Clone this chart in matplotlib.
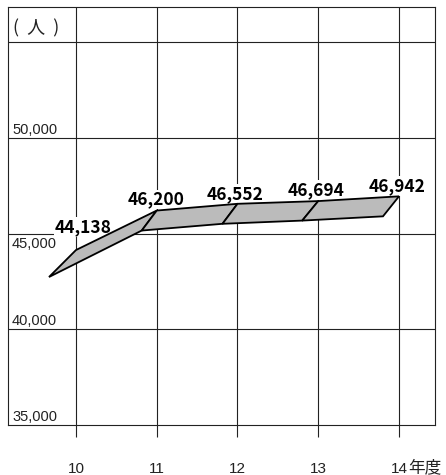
import matplotlib
matplotlib.use("Agg")
import matplotlib.pyplot as plt
from matplotlib.patches import Polygon
import numpy as np

# ---------------- data ----------------
years = [10, 11, 12, 13, 14]
year_labels = ["10", "11", "12", "13", "14"]
year_unit = "年度"
people = [44138, 46200, 46552, 46694, 46942]
y_grid = [40000, 45000, 50000, 55000]
y_labels = [35000, 40000, 45000, 50000]
unit_label = "(  人  )"

# ---------------- style ----------------
GRID = "#222222"
FILL = "#bbbbbb"
# ribbon depth per point, in pixels (dx, dy) toward the front/lower-left
depth_px = [(-27, -27), (-15, -20), (-15, -20), (-16, -19.5), (-16, -20)]
# data label offsets in pixels (dx, baseline dy) from the back edge point
label_off = [(7, 18), (-1, 6), (-2, 5), (-2, 6), (-2, 5)]

num_font = ["Liberation Sans", "Noto Sans CJK JP"]
jp_font = ["Noto Sans CJK JP", "DejaVu Sans"]

fig = plt.figure(figsize=(4.46, 4.75), dpi=100)
ax = fig.add_axes([8 / 446, 1 - 425 / 475, (435 - 8) / 446, (425 - 7) / 475])
ax.set_xlim(9.158, 14.446)
ax.set_ylim(35000, 56830)

# grid + frame
ax.set_xticks(years)
ax.set_xticklabels(year_labels, family=num_font, fontsize=11, color="#222222")
ax.set_yticks(y_grid)
ax.tick_params(axis="y", length=0, labelleft=False)
ax.tick_params(axis="x", direction="out", length=8.6, width=0.8, color=GRID, pad=18)
ax.grid(True, color=GRID, linewidth=0.8)
ax.set_axisbelow(True)
for s in ax.spines.values():
    s.set_color(GRID)
    s.set_linewidth(0.8)

# 年度 right after the last year label
ax.annotate(year_unit, xy=(years[-1], 0), xycoords=("data", "axes fraction"),
            xytext=(9, -47), textcoords="offset pixels", ha="left", va="baseline",
            family=jp_font, fontsize=12, color="#222222", annotation_clip=False)

# y value labels sitting on their grid lines
for v in y_labels:
    below = v == 45000
    ax.annotate(f"{v:,}", xy=(0, v), xycoords=("axes fraction", "data"),
                xytext=(4, -14.5 if below else 4), textcoords="offset pixels",
                va="baseline", ha="left", family=num_font, fontsize=10.5,
                color="#222222")

fig.text(13 / 446, 1 - 28 / 475, unit_label, family=jp_font, fontsize=13,
         va="center", ha="left", color="#222222")

# 3D-looking ribbon
back = ax.transData.transform(np.column_stack([years, people]))
front = back + np.array(depth_px)
inv = ax.transData.inverted()
back_d = inv.transform(back)
front_d = inv.transform(front)
for i in range(len(years) - 1):
    pts = [back_d[i], back_d[i + 1], front_d[i + 1], front_d[i]]
    ax.add_patch(Polygon(pts, closed=True, facecolor=FILL, edgecolor="black",
                         linewidth=1.3, joinstyle="miter", zorder=3))

# data labels (white box hides grid lines, ribbon stays on top)
for x, v, off in zip(years, people, label_off):
    ax.annotate(f"{v:,}", xy=(x, v), xytext=off, textcoords="offset pixels",
                ha="center", va="baseline", family=jp_font, fontsize=12.5,
                fontweight="bold", color="black", zorder=2.5,
                bbox=dict(boxstyle="square,pad=0.05", fc="white", ec="none"))

fig.savefig("out.png", dpi=100)
